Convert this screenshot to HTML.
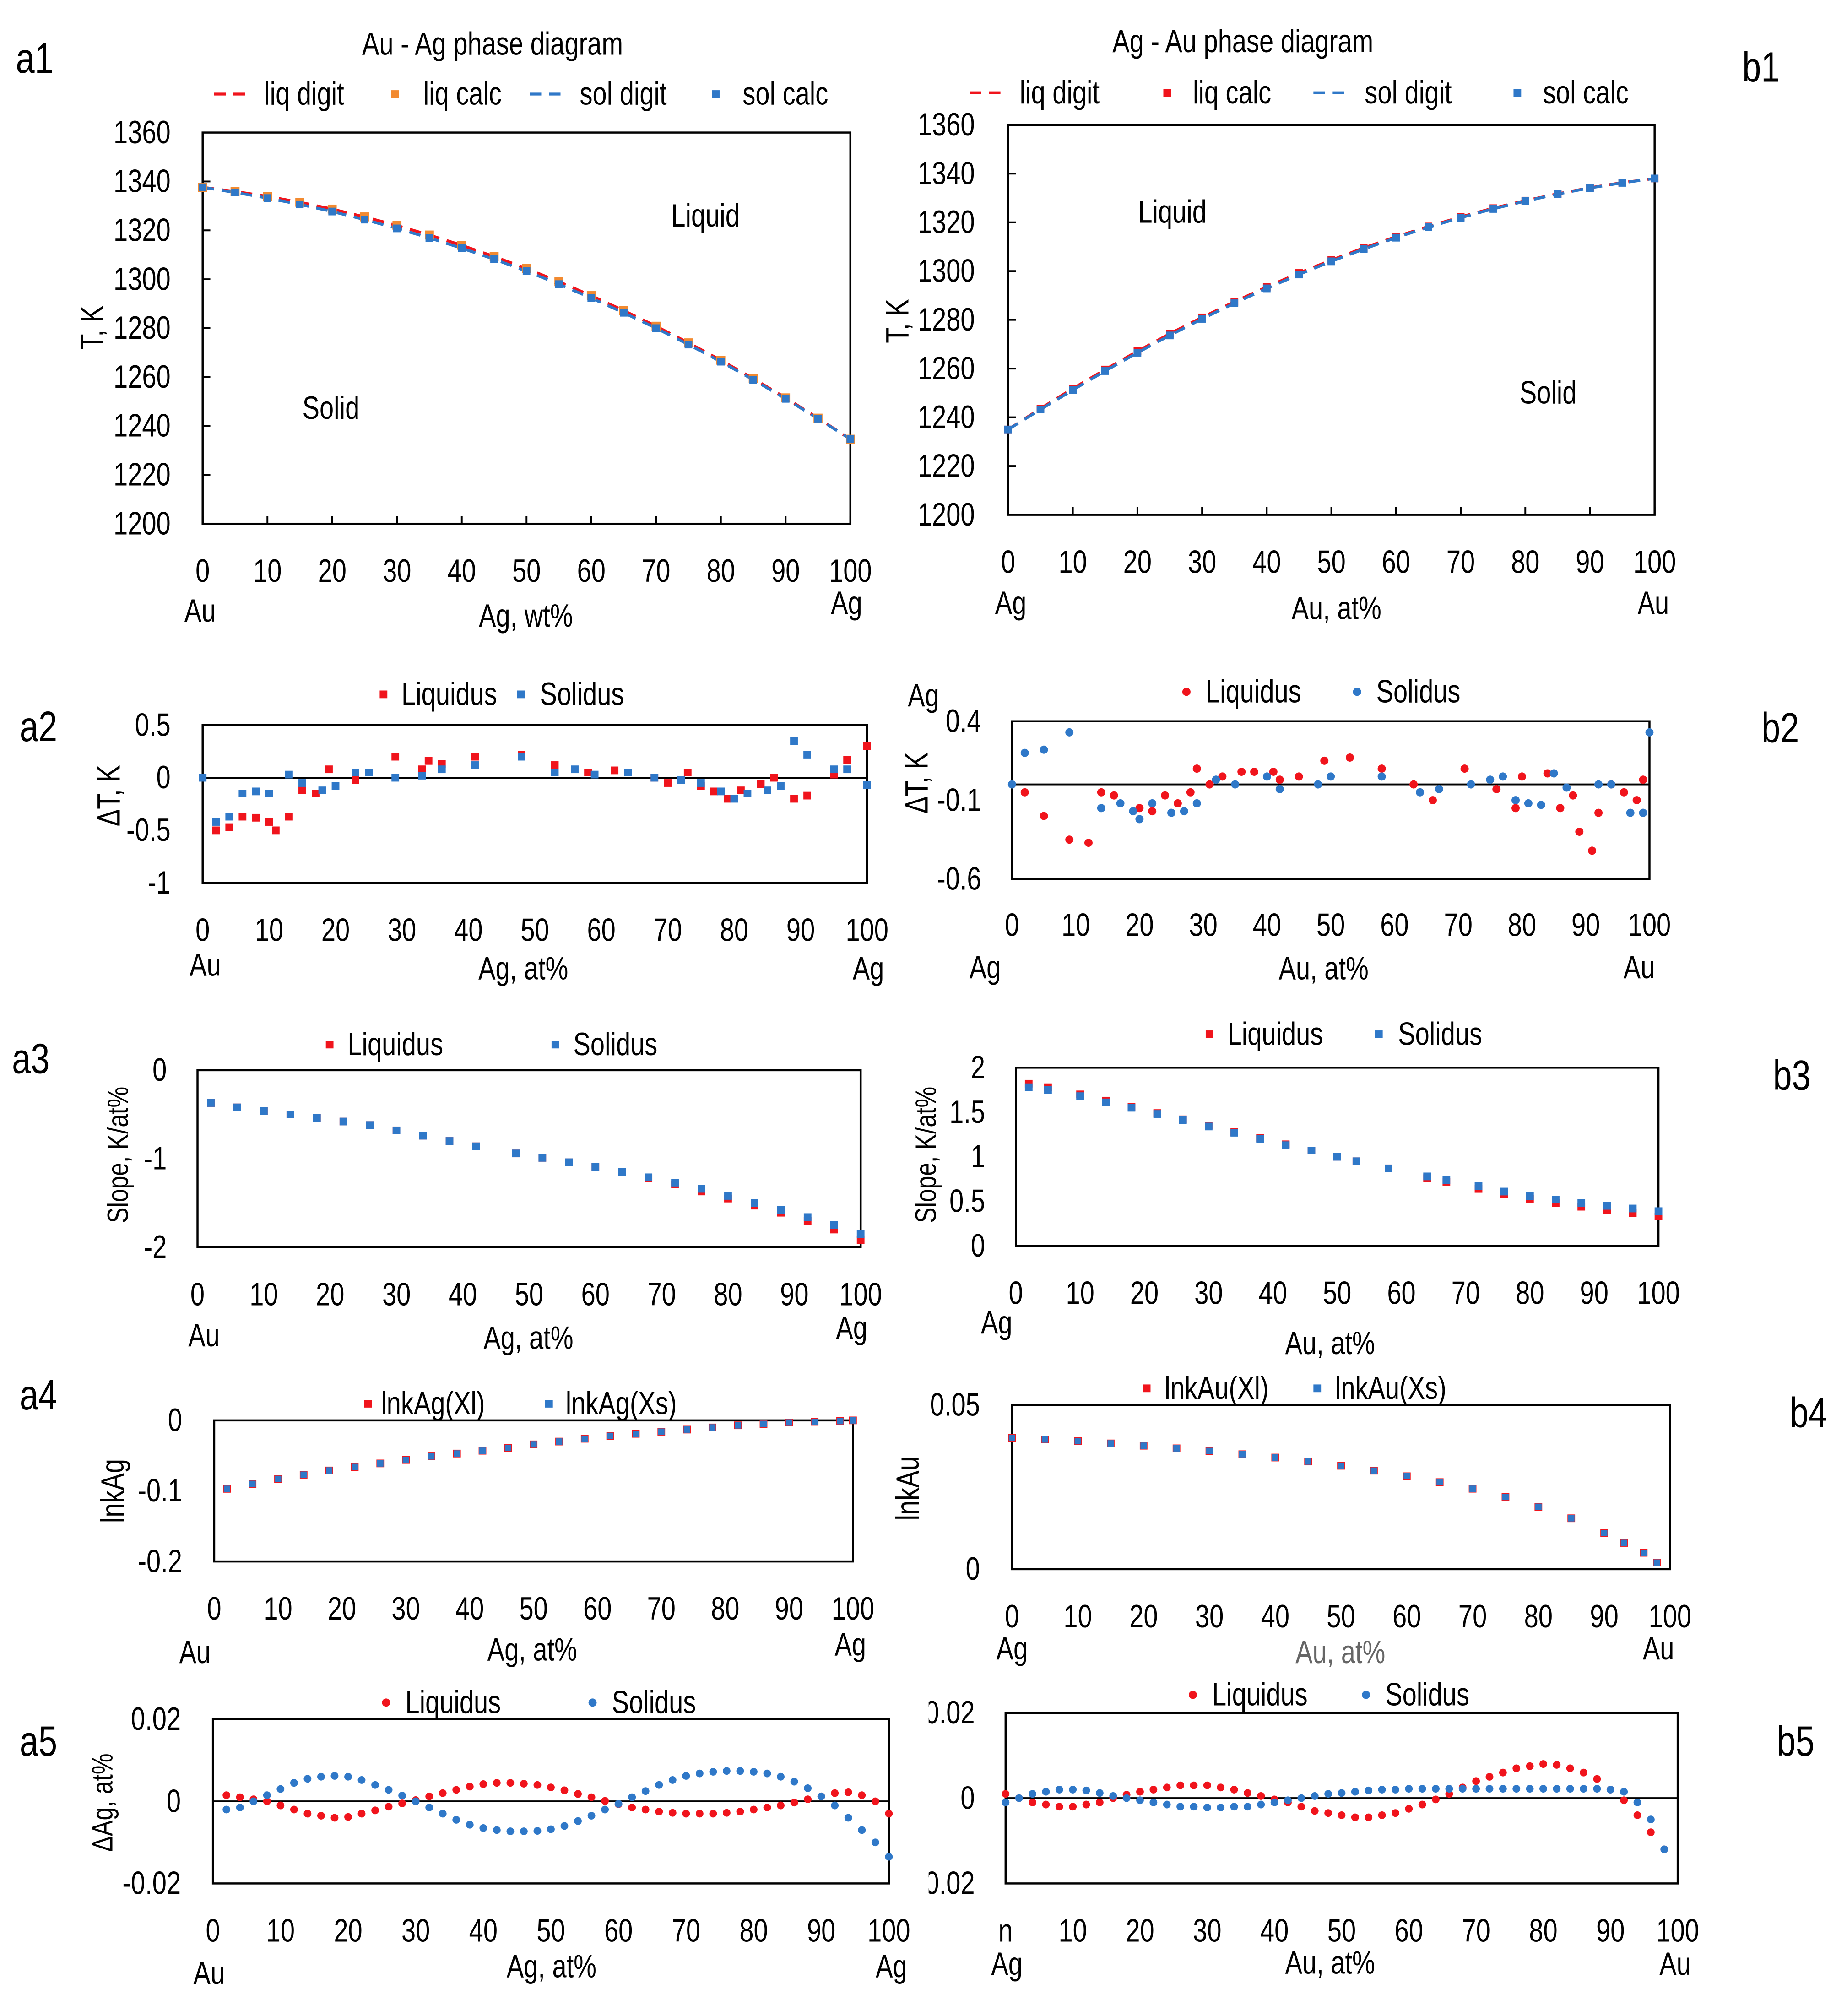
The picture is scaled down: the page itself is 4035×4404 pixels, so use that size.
<!DOCTYPE html>
<html><head><meta charset="utf-8">
<style>
html,body{margin:0;padding:0;background:#fff;}
svg{display:block;}
text{font-family:"Liberation Sans Narrow","Liberation Sans",sans-serif;fill:#000;}
</style></head>
<body>
<svg id="fig" xmlns="http://www.w3.org/2000/svg" width="4035" height="4404" viewBox="0 0 1440 1571"></svg>
<script>
// ---------- DATA ----------
const a1X = [0,5,10,15,20,25,30,35,40,45,50,55,60,65,70,75,80,85,90,95,100];
const a1LiqDigit = [1337.6,1335.9,1333.9,1331.5,1328.7,1325.5,1322.0,1318.1,1313.9,1309.3,1304.4,1299.0,1293.3,1287.2,1280.8,1274.0,1266.9,1259.4,1251.5,1243.2,1234.6];
const a1LiqCalc = [1337.6,1335.9,1333.9,1331.5,1328.7,1325.5,1322.0,1318.1,1313.9,1309.3,1304.4,1299.0,1293.3,1287.2,1280.8,1274.0,1266.9,1259.4,1251.5,1243.2,1234.6];
const a1SolDigit = [1337.6,1335.5,1333.2,1330.6,1327.7,1324.4,1320.8,1316.9,1312.7,1308.2,1303.3,1298.0,1292.3,1286.3,1280.0,1273.3,1266.3,1258.9,1251.1,1243.0,1234.6];
const a1SolCalc = [1337.6,1335.5,1333.2,1330.6,1327.7,1324.4,1320.8,1316.9,1312.7,1308.2,1303.3,1298.0,1292.3,1286.3,1280.0,1273.3,1266.3,1258.9,1251.1,1243.0,1234.6];

const b1X = [0,5,10,15,20,25,30,35,40,45,50,55,60,65,70,75,80,85,90,95,100];
const b1Liq = [1235,1243.6,1251.8,1259.6,1267.1,1274.3,1281.0,1287.4,1293.5,1299.2,1304.5,1309.5,1314.1,1318.3,1322.2,1325.8,1328.9,1331.7,1334.2,1336.3,1338];
const b1Sol = [1235,1243.2,1251.2,1259.0,1266.5,1273.6,1280.4,1286.8,1292.9,1298.6,1304.0,1309.0,1313.7,1318.0,1321.9,1325.5,1328.7,1331.6,1334.1,1336.2,1338];

const a2LiqX = [2,4,6,8,10,11,13,15,17,19,23,25,29,33,34,36,41,48,53,58,62,68,70,73,75,77,79,81,84,86,89,91,95,97,100];
const a2LiqY = [-0.5,-0.47,-0.37,-0.38,-0.42,-0.5,-0.37,-0.12,-0.15,0.08,-0.02,0.05,0.2,0.08,0.16,0.13,0.2,0.22,0.12,0.05,0.07,0.0,-0.05,0.05,-0.08,-0.13,-0.2,-0.12,-0.06,0.0,-0.2,-0.17,0.03,0.17,0.3];
const a2SolX = [0,2,4,6,8,10,13,15,18,20,23,25,29,33,36,41,48,53,56,59,64,68,72,75,78,80,82,85,87,89,91,95,97,100];
const a2SolY = [0,-0.42,-0.37,-0.15,-0.13,-0.15,0.03,-0.05,-0.12,-0.08,0.05,0.05,0.0,0.02,0.08,0.12,0.2,0.05,0.08,0.03,0.05,0.0,-0.02,-0.05,-0.13,-0.2,-0.15,-0.12,-0.08,0.35,0.22,0.08,0.08,-0.07];

const b2LiqX = [2,5,9,12,14,16,20,22,24,26,28,29,31,33,36,38,41,42,45,49,53,58,63,66,71,76,79,80,84,86,88,89,91,92,94,96,98,99];
const b2LiqY = [-0.05,-0.2,-0.35,-0.37,-0.05,-0.07,-0.15,-0.17,-0.07,-0.12,-0.05,0.1,0.0,0.05,0.08,0.08,0.08,0.03,0.05,0.15,0.17,0.1,0.0,-0.1,0.1,-0.03,-0.15,0.05,0.07,-0.15,-0.07,-0.3,-0.42,-0.18,0.0,-0.05,-0.1,0.03];
const b2SolX = [0,2,5,9,14,17,19,20,22,25,27,29,32,35,40,42,48,50,58,64,67,72,75,77,79,81,83,85,87,92,94,97,99,100];
const b2SolY = [0,0.2,0.22,0.33,-0.15,-0.12,-0.17,-0.22,-0.12,-0.18,-0.17,-0.12,0.03,0.0,0.05,-0.03,0.0,0.05,0.05,-0.05,-0.03,0.0,0.03,0.05,-0.1,-0.12,-0.13,0.07,-0.02,0.0,0.0,-0.18,-0.18,0.33];

const a3X = [2,6,10,14,18,22,26,30,34,38,42,48,52,56,60,64,68,72,76,80,84,88,92,96,100];
const a3Liq = [-0.37,-0.42,-0.46,-0.50,-0.54,-0.58,-0.62,-0.68,-0.74,-0.80,-0.86,-0.94,-0.99,-1.04,-1.09,-1.15,-1.22,-1.29,-1.37,-1.45,-1.53,-1.61,-1.70,-1.80,-1.92];
const a3Sol = [-0.37,-0.42,-0.46,-0.50,-0.54,-0.58,-0.62,-0.68,-0.74,-0.80,-0.86,-0.94,-0.99,-1.04,-1.09,-1.15,-1.21,-1.27,-1.34,-1.42,-1.50,-1.58,-1.66,-1.75,-1.85];

const b3X = [2,5,10,14,18,22,26,30,34,38,42,46,50,53,58,64,67,72,76,80,84,88,92,96,100];
const b3Liq = [1.82,1.78,1.70,1.63,1.56,1.49,1.42,1.35,1.28,1.21,1.14,1.07,1.00,0.95,0.87,0.76,0.72,0.64,0.58,0.53,0.48,0.44,0.40,0.37,0.33];
const b3Sol = [1.78,1.75,1.68,1.61,1.55,1.48,1.41,1.34,1.27,1.20,1.13,1.07,1.00,0.95,0.87,0.78,0.74,0.67,0.61,0.56,0.52,0.48,0.45,0.42,0.39];

const a4X = [2,6,10,14,18,22,26,30,34,38,42,46,50,54,58,62,66,70,74,78,82,86,90,94,98,100];
const a4Liq = [-0.097,-0.090,-0.083,-0.077,-0.071,-0.066,-0.061,-0.056,-0.051,-0.047,-0.043,-0.039,-0.034,-0.030,-0.026,-0.022,-0.019,-0.016,-0.013,-0.010,-0.007,-0.005,-0.003,-0.002,-0.001,0];
const a4Sol = [-0.097,-0.090,-0.083,-0.077,-0.071,-0.066,-0.061,-0.056,-0.051,-0.047,-0.043,-0.039,-0.034,-0.030,-0.026,-0.022,-0.019,-0.016,-0.013,-0.010,-0.007,-0.005,-0.003,-0.002,-0.001,0];

const b4X = [0,5,10,15,20,25,30,35,40,45,50,55,60,65,70,75,80,85,90,93,96,98];
const b4Liq = [0.040,0.0395,0.039,0.0383,0.0376,0.0368,0.036,0.035,0.034,0.0328,0.0315,0.030,0.0283,0.0265,0.0245,0.022,0.019,0.0155,0.011,0.008,0.005,0.002];
const b4Sol = [0.040,0.0395,0.039,0.0383,0.0376,0.0368,0.036,0.035,0.034,0.0328,0.0315,0.030,0.0283,0.0265,0.0245,0.022,0.019,0.0155,0.011,0.008,0.005,0.002];

const a5X = [2,4,6,8,10,12,14,16,18,20,22,24,26,28,30,32,34,36,38,40,42,44,46,48,50,52,54,56,58,60,62,64,66,68,70,72,74,76,78,80,82,84,86,88,90,92,94,96,98,100];
const a5Liq = [0.0015,0.001,0.0005,0,-0.001,-0.002,-0.003,-0.0035,-0.004,-0.0038,-0.003,-0.0022,-0.0013,-0.0005,0.0003,0.0012,0.002,0.0028,0.0036,0.0042,0.0045,0.0045,0.0043,0.004,0.0034,0.0027,0.0018,0.001,0.0001,-0.0007,-0.0015,-0.002,-0.0025,-0.0028,-0.003,-0.003,-0.003,-0.0028,-0.0025,-0.002,-0.0015,-0.001,-0.0003,0.0005,0.0012,0.002,0.0022,0.0015,0,-0.003];
const a5Sol = [-0.002,-0.0015,0,0.0015,0.003,0.0045,0.0055,0.006,0.0062,0.006,0.0052,0.004,0.0028,0.0014,0,-0.0015,-0.003,-0.0045,-0.0057,-0.0065,-0.007,-0.0073,-0.0073,-0.0072,-0.0068,-0.006,-0.0048,-0.0035,-0.002,-0.0006,0.001,0.0025,0.004,0.0052,0.0062,0.0068,0.0072,0.0074,0.0074,0.0072,0.0068,0.006,0.0048,0.0032,0.0012,-0.001,-0.004,-0.007,-0.01,-0.0135];

const b5X = [0,2,4,6,8,10,12,14,16,18,20,22,24,26,28,30,32,34,36,38,40,42,44,46,48,50,52,54,56,58,60,62,64,66,68,70,72,74,76,78,80,82,84,86,88,90,92,94,96,98];
const b5Liq = [0.001,0,-0.001,-0.0015,-0.002,-0.002,-0.0015,-0.001,0,0.0008,0.0015,0.002,0.0025,0.003,0.003,0.003,0.0025,0.002,0.0012,0.0005,-0.0003,-0.001,-0.002,-0.003,-0.0035,-0.004,-0.0045,-0.0045,-0.004,-0.0035,-0.0025,-0.0015,-0.0003,0.001,0.0025,0.004,0.005,0.006,0.007,0.0075,0.008,0.0078,0.007,0.006,0.0045,0.002,-0.0005,-0.004,-0.008,-0.012];
const b5Sol = [-0.001,0,0.001,0.0015,0.002,0.002,0.0018,0.0012,0.0005,0,-0.0005,-0.001,-0.0015,-0.002,-0.002,-0.0022,-0.0022,-0.002,-0.002,-0.0015,-0.001,-0.0005,0,0.0005,0.001,0.0012,0.0015,0.0018,0.002,0.002,0.0022,0.0022,0.0022,0.0022,0.0022,0.0022,0.0022,0.0022,0.0022,0.0022,0.0022,0.0022,0.0022,0.0022,0.0022,0.002,0.0015,-0.001,-0.005,-0.012];

const xTickVals = [0,10,20,30,40,50,60,70,80,90,100];

// ---------- DRAWING ----------
const NS = "http://www.w3.org/2000/svg";
const svg = document.getElementById('fig');
const RED = "#f0141c", BLUE = "#2f78c8", ORANGE = "#f28a30";
const SQX = 0.8; // horizontal condensing of text
function mk(tag, attrs, parent) {
  const e = document.createElementNS(NS, tag);
  for (const k in attrs) e.setAttribute(k, attrs[k]);
  (parent || svg).appendChild(e);
  return e;
}
function txt(s, x, y, size, anchor, name, extra) {
  extra = extra || {};
  const rot = extra.rot ? ' rotate(' + extra.rot + ')' : '';
  const t = mk('text', {x: 0, y: 0, 'font-size': size, 'text-anchor': anchor || 'middle', 'dominant-baseline': 'central',
    transform: 'translate(' + x + ' ' + y + ')' + rot + ' scale(' + SQX + ' 1)'});
  if (extra.style) t.setAttribute('style', extra.style);
  t.textContent = s;
  
  
  return t;
}
function panel(p) {
  const g = mk('g', {});
  
  
  const sx = v => p.L + (v - 0) / 100 * (p.R - p.L);
  const sy = v => p.B - (v - p.ymin) / (p.ymax - p.ymin) * (p.B - p.T);
  p.sx = sx; p.sy = sy; p.g = g;
  const box = mk('rect', {x: p.L, y: p.T, width: p.R - p.L, height: p.B - p.T, fill: 'none', stroke: '#000', 'stroke-width': 1.6}, g);
  
  
  if (p.zero) {
    const z = mk('line', {x1: p.L, x2: p.R, y1: sy(0), y2: sy(0), stroke: '#000', 'stroke-width': 1.4}, g);
    
    
  }
  xTickVals.forEach(v => {
    if (p.xticks) {
      const tk = mk('line', {x1: sx(v), x2: sx(v), y1: p.B, y2: p.B - 6, stroke: '#000', 'stroke-width': 1.4}, g);
      
      
    }
    const lab = (p.zeroLabel && v === 0) ? p.zeroLabel : String(v);
    txt(lab, sx(v), p.xlabY, 25, 'middle', p.id + '-x-tick-label');
  });
  p.yticks.forEach((v, i) => {
    if (p.yticksMarks) {
      const tk = mk('line', {x1: p.L, x2: p.L + 6, y1: sy(v), y2: sy(v), stroke: '#000', 'stroke-width': 1.4}, g);
      
      
    }
    txt(p.ylabels[i], p.ylabX, sy(v), 25, 'end', p.id + '-y-tick-label');
  });
  return p;
}
function line(p, xs, ys, color, name) {
  const d = xs.map((x, i) => (i ? 'L' : 'M') + p.sx(x).toFixed(2) + ',' + p.sy(ys[i]).toFixed(2)).join('');
  const e = mk('path', {d: d, fill: 'none', stroke: color, 'stroke-width': 2.2, 'stroke-dasharray': '9,6'}, p.g);
  
  
}
function squares(p, xs, ys, color, name, s) {
  s = s || 6;
  xs.forEach((x, i) => {
    const e = mk('rect', {x: p.sx(x) - s / 2, y: p.sy(ys[i]) - s / 2, width: s, height: s, fill: color}, p.g);
    
    
  });
}
function circles(p, xs, ys, color, name, r) {
  r = r || 3;
  xs.forEach((x, i) => {
    const e = mk('circle', {cx: p.sx(x), cy: p.sy(ys[i]), r: r, fill: color}, p.g);
    
    
  });
}
function legendMark(kind, x, y, color, name) {
  let e;
  if (kind === 'dash') e = mk('path', {d: 'M' + x + ',' + y + 'h9m6,0h9', stroke: color, 'stroke-width': 2.2, fill: 'none'});
  else if (kind === 'sq') e = mk('rect', {x: x - 3, y: y - 3, width: 6, height: 6, fill: color});
  else e = mk('circle', {cx: x, cy: y, r: 3.2, fill: color});
  
  
}

// a1
const a1 = panel({id: 'a1', L: 158, R: 663, T: 103, B: 408, ymin: 1200, ymax: 1360, xticks: true, yticksMarks: true,
  yticks: [1200,1220,1240,1260,1280,1300,1320,1340,1360], ylabels: ['1200','1220','1240','1260','1280','1300','1320','1340','1360'], ylabX: 133, xlabY: 445});
line(a1, a1X, a1LiqDigit, RED, 'a1-liq-digit-line');
line(a1, a1X, a1SolDigit, BLUE, 'a1-sol-digit-line');
squares(a1, a1X, a1LiqCalc, ORANGE, 'a1-liq-calc-point', 7);
squares(a1, a1X, a1SolCalc, BLUE, 'a1-sol-calc-point', 6);
txt('Au - Ag phase diagram', 384, 34, 25, 'middle', 'a1-title');
txt('a1', 27, 45, 33, 'middle', 'a1-panel-label');
legendMark('dash', 167, 73, RED, 'a1-legend-liq-digit-marker'); txt('liq digit', 206, 73, 25, 'start', 'a1-legend-liq-digit');
legendMark('sq', 308, 73, ORANGE, 'a1-legend-liq-calc-marker'); txt('liq calc', 330, 73, 25, 'start', 'a1-legend-liq-calc');
legendMark('dash', 413, 73, BLUE, 'a1-legend-sol-digit-marker'); txt('sol digit', 452, 73, 25, 'start', 'a1-legend-sol-digit');
legendMark('sq', 558, 73, BLUE, 'a1-legend-sol-calc-marker'); txt('sol calc', 579, 73, 25, 'start', 'a1-legend-sol-calc');
txt('Liquid', 550, 168, 25, 'middle', 'a1-liquid-region-label');
txt('Solid', 258, 318, 25, 'middle', 'a1-solid-region-label');
txt('T, K', 72, 255, 25, 'middle', 'a1-y-axis-title', {rot: -90});
txt('Au', 156, 476, 25, 'middle', 'a1-x-left-label'); txt('Ag, wt%', 410, 480, 25, 'middle', 'a1-x-axis-title'); txt('Ag', 660, 470, 25, 'middle', 'a1-x-right-label');

// b1
const b1 = panel({id: 'b1', L: 786, R: 1290, T: 97, B: 401, ymin: 1200, ymax: 1360, xticks: true, yticksMarks: true,
  yticks: [1200,1220,1240,1260,1280,1300,1320,1340,1360], ylabels: ['1200','1220','1240','1260','1280','1300','1320','1340','1360'], ylabX: 760, xlabY: 438});
line(b1, b1X, b1Liq, RED, 'b1-liq-digit-line');
line(b1, b1X, b1Sol, BLUE, 'b1-sol-digit-line');
squares(b1, b1X, b1Liq, RED, 'b1-liq-calc-point', 6);
squares(b1, b1X, b1Sol, BLUE, 'b1-sol-calc-point', 6);
txt('Ag - Au phase diagram', 969, 32, 25, 'middle', 'b1-title');
txt('b1', 1373, 52, 33, 'middle', 'b1-panel-label');
legendMark('dash', 756, 72, RED, 'b1-legend-liq-digit-marker'); txt('liq digit', 795, 72, 25, 'start', 'b1-legend-liq-digit');
legendMark('sq', 910, 72, RED, 'b1-legend-liq-calc-marker'); txt('liq calc', 930, 72, 25, 'start', 'b1-legend-liq-calc');
legendMark('dash', 1024, 72, BLUE, 'b1-legend-sol-digit-marker'); txt('sol digit', 1064, 72, 25, 'start', 'b1-legend-sol-digit');
legendMark('sq', 1183, 72, BLUE, 'b1-legend-sol-calc-marker'); txt('sol calc', 1203, 72, 25, 'start', 'b1-legend-sol-calc');
txt('Liquid', 914, 165, 25, 'middle', 'b1-liquid-region-label');
txt('Solid', 1207, 306, 25, 'middle', 'b1-solid-region-label');
txt('T, K', 700, 250, 25, 'middle', 'b1-y-axis-title', {rot: -90});
txt('Ag', 788, 470, 25, 'middle', 'b1-x-left-label'); txt('Au, at%', 1042, 474, 25, 'middle', 'b1-x-axis-title'); txt('Au', 1289, 470, 25, 'middle', 'b1-x-right-label');

// a2
const a2 = panel({id: 'a2', L: 158, R: 676, T: 565, B: 688, ymin: -1, ymax: 0.5, zero: true,
  yticks: [0.5,0,-0.5,-1], ylabels: ['0.5','0','-0.5','-1'], ylabX: 133, xlabY: 725});
squares(a2, a2LiqX, a2LiqY, RED, 'a2-liquidus-point', 6);
squares(a2, a2SolX, a2SolY, BLUE, 'a2-solidus-point', 6);
txt('a2', 30, 566, 33, 'middle', 'a2-panel-label');
legendMark('sq', 299, 541, RED, 'a2-legend-liquidus-marker'); txt('Liquidus', 313, 541, 25, 'start', 'a2-legend-liquidus');
legendMark('sq', 406, 541, BLUE, 'a2-legend-solidus-marker'); txt('Solidus', 421, 541, 25, 'start', 'a2-legend-solidus');
txt('ΔT, K', 85, 620, 25, 'middle', 'a2-y-axis-title', {rot: -90});
txt('Au', 160, 752, 25, 'middle', 'a2-x-left-label'); txt('Ag,  at%', 408, 755, 25, 'middle', 'a2-x-axis-title'); txt('Ag', 677, 755, 25, 'middle', 'a2-x-right-label');

// b2
const b2 = panel({id: 'b2', L: 789, R: 1286, T: 562, B: 685, ymin: -0.6, ymax: 0.4, zero: true,
  yticks: [0.4,-0.1,-0.6], ylabels: ['0.4','-0.1','-0.6'], ylabX: 765, xlabY: 721});
circles(b2, b2LiqX, b2LiqY, RED, 'b2-liquidus-point', 3.2);
circles(b2, b2SolX, b2SolY, BLUE, 'b2-solidus-point', 3.2);
txt('b2', 1388, 567, 33, 'middle', 'b2-panel-label');
txt('Ag', 720, 542, 25, 'middle', 'b2-corner-label');
legendMark('c', 925, 539, RED, 'b2-legend-liquidus-marker'); txt('Liquidus', 940, 539, 25, 'start', 'b2-legend-liquidus');
legendMark('c', 1058, 539, BLUE, 'b2-legend-solidus-marker'); txt('Solidus', 1073, 539, 25, 'start', 'b2-legend-solidus');
txt('ΔT, K', 715, 610, 25, 'middle', 'b2-y-axis-title', {rot: -90});
txt('Ag', 768, 754, 25, 'middle', 'b2-x-left-label'); txt('Au,  at%', 1032, 755, 25, 'middle', 'b2-x-axis-title'); txt('Au', 1278, 754, 25, 'middle', 'b2-x-right-label');

// a3
const a3 = panel({id: 'a3', L: 154, R: 671, T: 834, B: 972, ymin: -2, ymax: 0,
  yticks: [0,-1,-2], ylabels: ['0','-1','-2'], ylabX: 130, xlabY: 1009});
squares(a3, a3X, a3Liq, RED, 'a3-liquidus-point', 6);
squares(a3, a3X, a3Sol, BLUE, 'a3-solidus-point', 6);
txt('a3', 24, 825, 33, 'middle', 'a3-panel-label');
legendMark('sq', 257, 814, RED, 'a3-legend-liquidus-marker'); txt('Liquidus', 271, 814, 25, 'start', 'a3-legend-liquidus');
legendMark('sq', 433, 814, BLUE, 'a3-legend-solidus-marker'); txt('Solidus', 447, 814, 25, 'start', 'a3-legend-solidus');
txt('Slope, K/at%', 92, 900, 23, 'middle', 'a3-y-axis-title', {rot: -90});
txt('Au', 159, 1041, 25, 'middle', 'a3-x-left-label'); txt('Ag, at%', 412, 1043, 25, 'middle', 'a3-x-axis-title'); txt('Ag', 664, 1035, 25, 'middle', 'a3-x-right-label');

// b3
const b3 = panel({id: 'b3', L: 792, R: 1293, T: 832, B: 971, ymin: 0, ymax: 2,
  yticks: [2,1.5,1,0.5,0], ylabels: ['2','1.5','1','0.5','0'], ylabX: 768, xlabY: 1008});
squares(b3, b3X, b3Liq, RED, 'b3-liquidus-point', 6);
squares(b3, b3X, b3Sol, BLUE, 'b3-solidus-point', 6);
txt('b3', 1397, 838, 33, 'middle', 'b3-panel-label');
legendMark('sq', 943, 806, RED, 'b3-legend-liquidus-marker'); txt('Liquidus', 957, 806, 25, 'start', 'b3-legend-liquidus');
legendMark('sq', 1075, 806, BLUE, 'b3-legend-solidus-marker'); txt('Solidus', 1090, 806, 25, 'start', 'b3-legend-solidus');
txt('Slope, K/at%', 722, 900, 23, 'middle', 'b3-y-axis-title', {rot: -90});
txt('Ag', 777, 1031, 25, 'middle', 'b3-x-left-label'); txt('Au, at%', 1037, 1047, 25, 'middle', 'b3-x-axis-title');

// a4
const a4 = panel({id: 'a4', L: 167, R: 665, T: 1107, B: 1217, ymin: -0.2, ymax: 0,
  yticks: [0,-0.1,-0.2], ylabels: ['0','-0.1','-0.2'], ylabX: 142, xlabY: 1254});
squares(a4, a4X, a4Liq, RED, 'a4-lnkag-xl-point', 6);
squares(a4, a4X, a4Sol, BLUE, 'a4-lnkag-xs-point', 5);
txt('a4', 30, 1087, 33, 'middle', 'a4-panel-label');
legendMark('sq', 287, 1094, RED, 'a4-legend-xl-marker'); txt('lnkAg(Xl)', 297, 1094, 25, 'start', 'a4-legend-xl');
legendMark('sq', 428, 1094, BLUE, 'a4-legend-xs-marker'); txt('lnkAg(Xs)', 441, 1094, 25, 'start', 'a4-legend-xs');
txt('lnkAg', 88, 1162, 25, 'middle', 'a4-y-axis-title', {rot: -90});
txt('Au', 152, 1288, 25, 'middle', 'a4-x-left-label'); txt('Ag, at%', 415, 1286, 25, 'middle', 'a4-x-axis-title'); txt('Ag', 663, 1282, 25, 'middle', 'a4-x-right-label');

// b4
const b4 = panel({id: 'b4', L: 789, R: 1302, T: 1095, B: 1223, ymin: 0, ymax: 0.05,
  yticks: [0.05,0], ylabels: ['0.05','0'], ylabX: 764, xlabY: 1260});
squares(b4, b4X, b4Liq, RED, 'b4-lnkau-xl-point', 6);
squares(b4, b4X, b4Sol, BLUE, 'b4-lnkau-xs-point', 5);
txt('b4', 1410, 1101, 33, 'middle', 'b4-panel-label');
legendMark('sq', 894, 1082, RED, 'b4-legend-xl-marker'); txt('lnkAu(Xl)', 908, 1082, 25, 'start', 'b4-legend-xl');
legendMark('sq', 1027, 1082, BLUE, 'b4-legend-xs-marker'); txt('lnkAu(Xs)', 1041, 1082, 25, 'start', 'b4-legend-xs');
txt('lnkAu', 708, 1160, 25, 'middle', 'b4-y-axis-title', {rot: -90});
txt('Ag', 789, 1285, 25, 'middle', 'b4-x-left-label');
txt('Au, at%', 1045, 1288, 25, 'middle', 'b4-x-axis-title', {style: 'fill:#666'});
txt('Au', 1293, 1285, 25, 'middle', 'b4-x-right-label');

// a5
const a5 = panel({id: 'a5', L: 166, R: 693, T: 1340, B: 1468, ymin: -0.02, ymax: 0.02, zero: true,
  yticks: [0.02,0,-0.02], ylabels: ['0.02','0','-0.02'], ylabX: 141, xlabY: 1505});
circles(a5, a5X, a5Liq, RED, 'a5-liquidus-point', 3);
circles(a5, a5X, a5Sol, BLUE, 'a5-solidus-point', 3);
txt('a5', 30, 1357, 33, 'middle', 'a5-panel-label');
legendMark('c', 301, 1327, RED, 'a5-legend-liquidus-marker'); txt('Liquidus', 316, 1327, 25, 'start', 'a5-legend-liquidus');
legendMark('c', 462, 1327, BLUE, 'a5-legend-solidus-marker'); txt('Solidus', 477, 1327, 25, 'start', 'a5-legend-solidus');
txt('ΔAg, at%', 80, 1405, 23, 'middle', 'a5-y-axis-title', {rot: -90});
txt('Au', 163, 1538, 25, 'middle', 'a5-x-left-label'); txt('Ag,  at%', 430, 1533, 25, 'middle', 'a5-x-axis-title'); txt('Ag', 695, 1533, 25, 'middle', 'a5-x-right-label');

// b5
const b5 = panel({id: 'b5', L: 784, R: 1308, T: 1335, B: 1468, ymin: -0.02, ymax: 0.02, zero: true, zeroLabel: 'n',
  yticks: [0.02,0,-0.02], ylabels: ['0.02','0','0.02'], ylabX: 760, xlabY: 1505});
circles(b5, b5X, b5Liq, RED, 'b5-liquidus-point', 3);
circles(b5, b5X, b5Sol, BLUE, 'b5-solidus-point', 3);
txt('b5', 1400, 1357, 33, 'middle', 'b5-panel-label');
legendMark('c', 930, 1321, RED, 'b5-legend-liquidus-marker'); txt('Liquidus', 945, 1321, 25, 'start', 'b5-legend-liquidus');
legendMark('c', 1065, 1321, BLUE, 'b5-legend-solidus-marker'); txt('Solidus', 1080, 1321, 25, 'start', 'b5-legend-solidus');
txt('Ag', 785, 1531, 25, 'middle', 'b5-x-left-label'); txt('Au,  at%', 1037, 1530, 25, 'middle', 'b5-x-axis-title'); txt('Au', 1306, 1531, 25, 'middle', 'b5-x-right-label');
const m = mk('rect', {x: 700, y: 1320, width: 24, height: 170, fill: '#fff'});


</script>
</body></html>
